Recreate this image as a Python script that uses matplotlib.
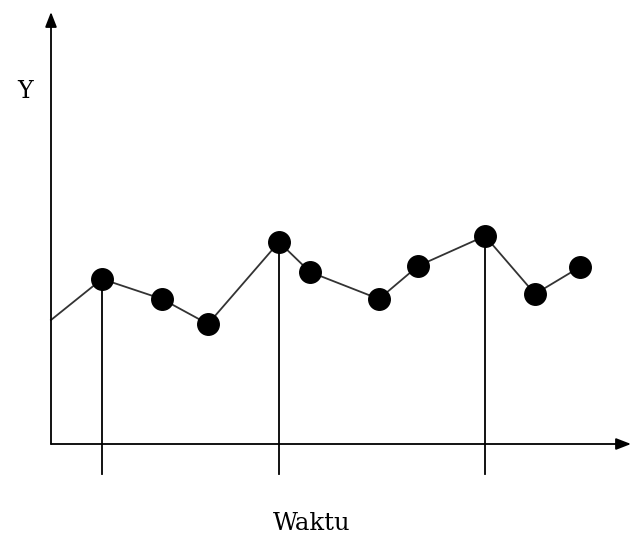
import matplotlib.pyplot as plt

# time positions and values of the measured points (origin = axis corner)
waktu = [0, 51, 111, 157, 228, 259, 328, 367, 434, 484, 529]
nilai = [124, 165, 145, 120, 202, 172, 145, 178, 208, 150, 177]
# points that get a drop line below the axis
puncak = [1, 4, 8]

fig = plt.figure(figsize=(6.31, 5.38), dpi=100)
ax = fig.add_axes([0, 0, 1, 1])
ax.set_xlim(-51, 580)
ax.set_ylim(-94, 444)
ax.axis('off')

# axes with arrows
arrow = dict(arrowstyle='-|>,head_length=0.9,head_width=0.35', color='black', lw=1.3,
             shrinkA=0, shrinkB=0)
ax.annotate('', xy=(0, 432), xytext=(0, 0), arrowprops=arrow)
ax.annotate('', xy=(580, 0), xytext=(0, 0), arrowprops=arrow)

# drop lines
for i in puncak:
    ax.plot([waktu[i], waktu[i]], [nilai[i], -30], color='black', lw=1.3)

ax.plot(waktu, nilai, color='#333333', lw=1.3)
ax.plot(waktu[1:], nilai[1:], 'o', color='black', markersize=15.5)

ax.text(-26, 352, 'Y', family='DejaVu Serif', fontsize=17, ha='center', va='center')
ax.text(261, -79, 'Waktu', family='DejaVu Serif', fontsize=17.5, ha='center', va='center')

fig.savefig('out.png', dpi=100)
